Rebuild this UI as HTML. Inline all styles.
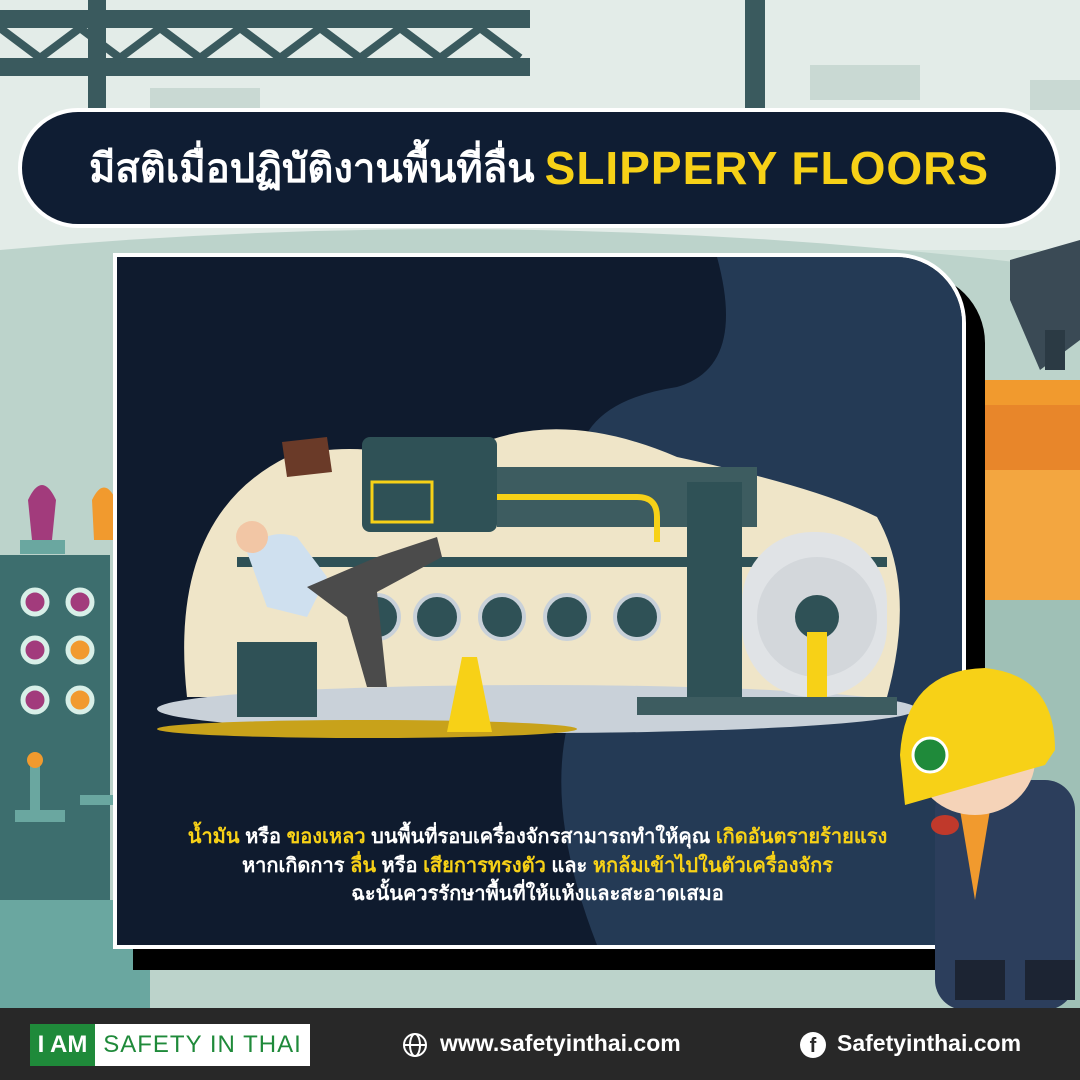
<!DOCTYPE html>
<html><head><meta charset="utf-8">
<style>
html,body{margin:0;padding:0;}
body{width:1080px;height:1080px;position:relative;overflow:hidden;background:#d3e3dc;font-family:"Liberation Sans",sans-serif;}
.abs{position:absolute;}
.title{left:18px;top:108px;width:1034px;height:112px;background:#0f1d33;border:4px solid #fff;border-radius:60px;display:flex;align-items:center;justify-content:center;color:#fff;font-weight:bold;font-size:40px;white-space:nowrap;}
.title span{color:#f7d117;font-size:46px;margin-left:10px;letter-spacing:1px;}
.txt{left:115px;width:845px;text-align:center;color:#fff;font-size:20px;font-weight:bold;white-space:nowrap;}
.y{color:#f7d117;}
.footer{left:0;top:1008px;width:1080px;height:72px;background:#282828;}
</style></head>
<body>
<svg class="abs" style="left:0;top:0" width="1080" height="1080">
 <rect x="0" y="0" width="1080" height="1080" fill="#d3e3dc"/>
 <rect x="0" y="0" width="1080" height="250" fill="#e3ece8"/>
 <path d="M0 250 Q540 200 1080 270 L1080 1010 L0 1010Z" fill="#bcd3cb"/>
 <rect x="0" y="10" width="530" height="18" fill="#3a5a5e"/>
 <rect x="0" y="58" width="530" height="18" fill="#3a5a5e"/>
 <path d="M0 28 L40 58 L80 28 L120 58 L160 28 L200 58 L240 28 L280 58 L320 28 L360 58 L400 28 L440 58 L480 28 L520 58" stroke="#3a5a5e" stroke-width="8" fill="none"/>
 <rect x="88" y="0" width="18" height="110" fill="#3a5a5e"/>
 <rect x="745" y="0" width="20" height="110" fill="#3a5a5e"/>
 <rect x="810" y="65" width="110" height="35" fill="#c9d9d3"/>
 <rect x="150" y="88" width="110" height="20" fill="#c9d9d3"/>
 <rect x="1030" y="80" width="50" height="30" fill="#c9d9d3"/>
 <path d="M1010 260 L1080 240 L1080 340 L1040 370 L1010 300Z" fill="#3a4a55"/>
 <rect x="1045" y="330" width="20" height="40" fill="#2b3a44"/>
 <rect x="985" y="380" width="95" height="25" fill="#f19a2e"/>
 <path d="M985 405 L1080 405 L1080 470 L985 470Z" fill="#e8862a"/>
 <rect x="985" y="470" width="95" height="130" fill="#f3a640"/>
 <rect x="960" y="600" width="120" height="410" fill="#9fc0b6"/>
 <rect x="0" y="555" width="110" height="350" fill="#3d6e6e"/>
 <rect x="0" y="900" width="150" height="110" fill="#6aa7a0"/>
 <g fill="#a23b7c" stroke="#d8efe8" stroke-width="5">
  <circle cx="35" cy="602" r="12"/><circle cx="80" cy="602" r="12"/>
  <circle cx="35" cy="650" r="12"/><circle cx="80" cy="650" r="12" fill="#f19a2e"/>
  <circle cx="35" cy="700" r="12"/><circle cx="80" cy="700" r="12" fill="#f19a2e"/>
 </g>
 <path d="M28 500 Q42 470 56 500 L52 540 L32 540Z" fill="#a23b7c"/>
 <path d="M92 500 Q104 475 116 500 L114 540 L94 540Z" fill="#f19a2e"/>
 <rect x="20" y="540" width="45" height="14" fill="#6aa7a0"/>
 <rect x="30" y="760" width="10" height="50" fill="#6aa7a0"/><circle cx="35" cy="760" r="8" fill="#f19a2e"/>
 <rect x="15" y="810" width="50" height="12" fill="#6aa7a0"/>
 <rect x="80" y="795" width="40" height="10" fill="#6aa7a0"/>
</svg>

<div class="abs title">มีสติเมื่อปฏิบัติงานพื้นที่ลื่น<span>SLIPPERY FLOORS</span></div>

<div class="abs" style="left:133px;top:273px;width:852px;height:697px;background:#000;border-radius:0 70px 0 0"></div>
<div class="abs" style="left:113px;top:253px;width:845px;height:688px;background:#0f1b2e;border:4px solid #fff;border-radius:0 70px 0 0;overflow:hidden">
 <svg width="845" height="688">
  <path d="M600 0 L845 0 L845 688 L480 688 Q430 560 450 470 Q470 380 470 260 Q430 150 560 130 Q630 110 600 0Z" fill="#243a55"/>
  <path d="M70 440 Q50 260 170 200 Q250 180 320 210 Q420 140 560 200 Q700 230 760 260 Q800 330 770 440Z" fill="#efe5c8"/>
  <ellipse cx="420" cy="452" rx="380" ry="24" fill="#c9d1d9"/>
  <ellipse cx="250" cy="472" rx="210" ry="9" fill="#c8a21a"/>
  <rect x="245" y="180" width="135" height="95" rx="8" fill="#2f5156"/>
  <rect x="255" y="225" width="60" height="40" fill="none" stroke="#f7d117" stroke-width="3"/>
  <rect x="380" y="210" width="260" height="60" fill="#3d5c60"/>
  <path d="M380 240 L520 240 Q540 240 540 260 L540 285" stroke="#f7d117" stroke-width="6" fill="none"/>
  <rect x="570" y="225" width="55" height="230" fill="#2f5156"/>
  <rect x="120" y="300" width="650" height="10" fill="#2f5156"/>
  <g fill="#2f5156" stroke="#c9d1d9" stroke-width="4">
   <circle cx="260" cy="360" r="22"/><circle cx="320" cy="360" r="22"/><circle cx="385" cy="360" r="22"/><circle cx="450" cy="360" r="22"/><circle cx="520" cy="360" r="22"/>
  </g>
  <rect x="625" y="275" width="145" height="165" rx="70" fill="#e0e3e6"/>
  <circle cx="700" cy="360" r="60" fill="#d3d7db"/>
  <circle cx="700" cy="360" r="22" fill="#2f5156"/>
  <rect x="690" y="375" width="20" height="80" fill="#f7d117"/>
  <rect x="120" y="385" width="80" height="75" fill="#2f5156"/>
  <rect x="520" y="440" width="260" height="18" fill="#3d5c60"/>
  <path d="M345 400 L330 475 L375 475 L360 400Z" fill="#f7d117"/>
  <path d="M165 185 L210 180 L215 215 L170 220Z" fill="#6a3a28"/>
  <path d="M130 295 Q150 270 180 280 L210 320 L190 360 L150 350Z" fill="#cfe0ef"/>
  <path d="M190 330 L260 300 L320 280 L325 300 L260 335 L270 430 L250 430 L230 360Z" fill="#4b4b4b"/>
  <circle cx="135" cy="280" r="16" fill="#f2c6a5"/>
 </svg>
</div>

<div class="abs txt" style="top:820px"><span class="y">น้ำมัน</span> หรือ <span class="y">ของเหลว</span> บนพื้นที่รอบเครื่องจักรสามารถทำให้คุณ <span class="y">เกิดอันตรายร้ายแรง</span></div>
<div class="abs txt" style="top:849px">หากเกิดการ <span class="y">ลื่น</span> หรือ <span class="y">เสียการทรงตัว</span> และ <span class="y">หกล้มเข้าไปในตัวเครื่องจักร</span></div>
<div class="abs txt" style="top:877px">ฉะนั้นควรรักษาพื้นที่ให้แห้งและสะอาดเสมอ</div>

<svg class="abs" style="left:895px;top:660px" width="185" height="350">
 <rect x="40" y="120" width="140" height="230" rx="30" fill="#2c3e5c"/>
 <path d="M60 120 L80 240 L100 120Z" fill="#f19a2e"/>
 <ellipse cx="80" cy="100" rx="60" ry="55" fill="#f5d3b8"/>
 <path d="M5 95 Q10 10 90 8 Q160 15 160 90 L150 105 L10 145Z" fill="#f7d117"/>
 <circle cx="35" cy="95" r="17" fill="#1f8a3a" stroke="#fff" stroke-width="3"/>
 <ellipse cx="50" cy="165" rx="14" ry="10" fill="#c0392b"/>
 <rect x="60" y="300" width="50" height="40" fill="#1c2433"/>
 <rect x="130" y="300" width="50" height="40" fill="#1c2433"/>
</svg>

<div class="abs footer"></div>
<div class="abs" style="left:30px;top:1024px;width:65px;height:42px;background:#1f8a3a;color:#fff;font-weight:bold;font-size:24px;line-height:42px;text-align:center">I AM</div>
<div class="abs" style="left:95px;top:1024px;width:215px;height:42px;background:#fff;color:#1f8a3a;font-size:24px;line-height:42px;text-align:center;letter-spacing:1px">SAFETY IN THAI</div>
<svg class="abs" style="left:401px;top:1031px" width="28" height="28"><circle cx="14" cy="14" r="11" fill="none" stroke="#fff" stroke-width="2"/><ellipse cx="14" cy="14" rx="5" ry="11" fill="none" stroke="#fff" stroke-width="2"/><line x1="3" y1="14" x2="25" y2="14" stroke="#fff" stroke-width="2"/></svg>
<div class="abs" style="left:440px;top:1030px;color:#fff;font-weight:bold;font-size:23px">www.safetyinthai.com</div>
<div class="abs" style="left:800px;top:1032px;width:26px;height:26px;border-radius:50%;background:#fff;color:#282828;font-weight:bold;font-size:20px;line-height:28px;text-align:center">f</div>
<div class="abs" style="left:837px;top:1030px;color:#fff;font-weight:bold;font-size:23px">Safetyinthai.com</div>
</body></html>
